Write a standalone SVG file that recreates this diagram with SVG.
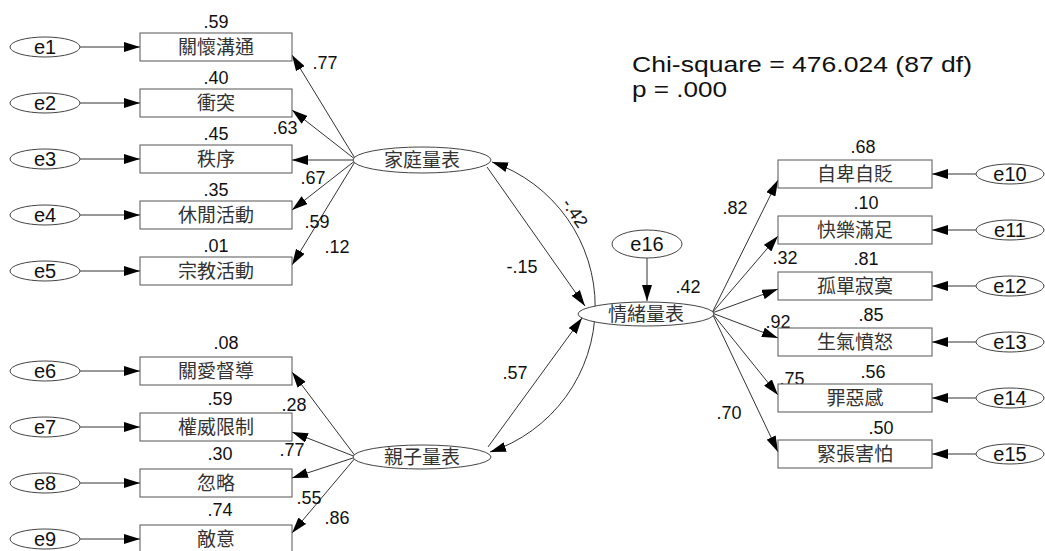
<svg xmlns="http://www.w3.org/2000/svg" width="1045" height="551" viewBox="0 0 1045 551">
<style>
.bg{fill:#ffffff}
.box{fill:#ffffff;stroke:#555;stroke-width:1}
.ell{fill:#ffffff;stroke:#444;stroke-width:1}
.ln{fill:none;stroke:#333;stroke-width:1}
.cjk{font-family:"Noto Sans CJK TC","Noto Sans CJK SC",sans-serif;font-size:19px;fill:#333;text-anchor:middle}
.num{font-family:"Liberation Sans",Arial,sans-serif;font-size:18px;fill:#111;text-anchor:middle}
.el{font-family:"Liberation Sans",Arial,sans-serif;font-size:20px;fill:#111;text-anchor:middle}
.big{font-family:"Liberation Sans",Arial,sans-serif;font-size:22px;fill:#111}
</style>
<defs>
<marker id="ah" markerWidth="16" markerHeight="10" refX="16" refY="5" orient="auto-start-reverse" markerUnits="userSpaceOnUse">
<path d="M0,0 L16,5 L0,10 Z" fill="#000"/>
</marker>
</defs>
<rect class="bg" x="0" y="0" width="1045" height="551"/>

<g id="connectors">
<line class="ln" x1="80" y1="47" x2="140" y2="47" marker-end="url(#ah)"/>
<line class="ln" x1="80" y1="103" x2="140" y2="103" marker-end="url(#ah)"/>
<line class="ln" x1="80" y1="159" x2="140" y2="159" marker-end="url(#ah)"/>
<line class="ln" x1="80" y1="215" x2="140" y2="215" marker-end="url(#ah)"/>
<line class="ln" x1="80" y1="271" x2="140" y2="271" marker-end="url(#ah)"/>
<line class="ln" x1="80" y1="371" x2="140" y2="371" marker-end="url(#ah)"/>
<line class="ln" x1="80" y1="427" x2="140" y2="427" marker-end="url(#ah)"/>
<line class="ln" x1="80" y1="483" x2="140" y2="483" marker-end="url(#ah)"/>
<line class="ln" x1="80" y1="539" x2="140" y2="539" marker-end="url(#ah)"/>
<line class="ln" x1="356" y1="160" x2="292" y2="55" marker-end="url(#ah)"/>
<line class="ln" x1="356" y1="160" x2="292" y2="110" marker-end="url(#ah)"/>
<line class="ln" x1="356" y1="160" x2="292" y2="160" marker-end="url(#ah)"/>
<line class="ln" x1="356" y1="160" x2="292" y2="210" marker-end="url(#ah)"/>
<line class="ln" x1="356" y1="160" x2="292" y2="265" marker-end="url(#ah)"/>
<line class="ln" x1="356" y1="457" x2="292" y2="372" marker-end="url(#ah)"/>
<line class="ln" x1="356" y1="457" x2="292" y2="432" marker-end="url(#ah)"/>
<line class="ln" x1="356" y1="457" x2="292" y2="478" marker-end="url(#ah)"/>
<line class="ln" x1="356" y1="457" x2="292" y2="533" marker-end="url(#ah)"/>
<line class="ln" x1="712" y1="313" x2="778" y2="180" marker-end="url(#ah)"/>
<line class="ln" x1="712" y1="313" x2="778" y2="236" marker-end="url(#ah)"/>
<line class="ln" x1="712" y1="313" x2="778" y2="289" marker-end="url(#ah)"/>
<line class="ln" x1="712" y1="313" x2="778" y2="338" marker-end="url(#ah)"/>
<line class="ln" x1="712" y1="313" x2="778" y2="395" marker-end="url(#ah)"/>
<line class="ln" x1="712" y1="313" x2="778" y2="452" marker-end="url(#ah)"/>
<line class="ln" x1="976" y1="174" x2="932" y2="174" marker-end="url(#ah)"/>
<line class="ln" x1="976" y1="230" x2="932" y2="230" marker-end="url(#ah)"/>
<line class="ln" x1="976" y1="286" x2="932" y2="286" marker-end="url(#ah)"/>
<line class="ln" x1="976" y1="342" x2="932" y2="342" marker-end="url(#ah)"/>
<line class="ln" x1="976" y1="398" x2="932" y2="398" marker-end="url(#ah)"/>
<line class="ln" x1="976" y1="454" x2="932" y2="454" marker-end="url(#ah)"/>
<line class="ln" x1="487" y1="167" x2="585" y2="306" marker-end="url(#ah)"/>
<line class="ln" x1="488" y1="447" x2="582" y2="318" marker-end="url(#ah)"/>
<line class="ln" x1="647" y1="258" x2="647" y2="301" marker-end="url(#ah)"/>
<path class="ln" d="M492,162 A153,153 0 0 1 490,452" marker-start="url(#ah)" marker-end="url(#ah)"/>
</g>

<g id="labels">
<text class="num" x="216" y="28">.59</text>
<text class="num" x="216" y="84">.40</text>
<text class="num" x="216" y="140">.45</text>
<text class="num" x="216" y="196">.35</text>
<text class="num" x="216" y="252">.01</text>
<text class="num" x="226" y="349">.08</text>
<text class="num" x="220" y="405">.59</text>
<text class="num" x="220" y="460">.30</text>
<text class="num" x="220" y="516">.74</text>
<text class="num" x="325" y="69">.77</text>
<text class="num" x="285" y="134">.63</text>
<text class="num" x="313" y="184">.67</text>
<text class="num" x="317" y="228">.59</text>
<text class="num" x="337" y="253">.12</text>
<text class="num" x="294" y="411">.28</text>
<text class="num" x="292" y="456">.77</text>
<text class="num" x="309" y="504">.55</text>
<text class="num" x="337" y="524">.86</text>
<text class="num" x="863" y="153">.68</text>
<text class="num" x="866" y="209">.10</text>
<text class="num" x="866" y="265">.81</text>
<text class="num" x="871" y="321">.85</text>
<text class="num" x="873" y="378">.56</text>
<text class="num" x="881" y="434">.50</text>
<text class="num" x="735" y="214">.82</text>
<text class="num" x="785" y="264">.32</text>
<text class="num" x="792" y="299">.90</text>
<text class="num" x="778" y="328">.92</text>
<text class="num" x="792" y="385">.75</text>
<text class="num" x="729" y="419">.70</text>
<text class="num" x="522" y="273">-.15</text>
<text class="num" x="515" y="379">.57</text>
<text class="num" x="688" y="293">.42</text>
<text class="num" transform="translate(575,213) rotate(56)" x="0" y="6">-.42</text>
<text class="big" x="632" y="72" textLength="340" lengthAdjust="spacingAndGlyphs">Chi-square = 476.024 (87 df)</text>
<text class="big" x="632" y="97" textLength="95" lengthAdjust="spacingAndGlyphs">p = .000</text>
</g>

<g id="e1"><ellipse class="ell" cx="45" cy="47" rx="35" ry="10"/><text class="el" x="45" y="54">e1</text></g>
<g id="e2"><ellipse class="ell" cx="45" cy="103" rx="35" ry="10"/><text class="el" x="45" y="110">e2</text></g>
<g id="e3"><ellipse class="ell" cx="45" cy="159" rx="35" ry="10"/><text class="el" x="45" y="166">e3</text></g>
<g id="e4"><ellipse class="ell" cx="45" cy="215" rx="35" ry="10"/><text class="el" x="45" y="222">e4</text></g>
<g id="e5"><ellipse class="ell" cx="45" cy="271" rx="35" ry="10"/><text class="el" x="45" y="278">e5</text></g>
<g id="e6"><ellipse class="ell" cx="45" cy="371" rx="35" ry="10"/><text class="el" x="45" y="378">e6</text></g>
<g id="e7"><ellipse class="ell" cx="45" cy="427" rx="35" ry="10"/><text class="el" x="45" y="434">e7</text></g>
<g id="e8"><ellipse class="ell" cx="45" cy="483" rx="35" ry="10"/><text class="el" x="45" y="490">e8</text></g>
<g id="e9"><ellipse class="ell" cx="45" cy="539" rx="35" ry="10"/><text class="el" x="45" y="546">e9</text></g>

<g id="v1"><rect class="box" x="140" y="33" width="152" height="28"/><text class="cjk" x="216" y="54">關懷溝通</text></g>
<g id="v2"><rect class="box" x="140" y="89" width="152" height="28"/><text class="cjk" x="216" y="110">衝突</text></g>
<g id="v3"><rect class="box" x="140" y="145" width="152" height="28"/><text class="cjk" x="216" y="166">秩序</text></g>
<g id="v4"><rect class="box" x="140" y="201" width="152" height="28"/><text class="cjk" x="216" y="222">休閒活動</text></g>
<g id="v5"><rect class="box" x="140" y="257" width="152" height="28"/><text class="cjk" x="216" y="278">宗教活動</text></g>
<g id="v6"><rect class="box" x="140" y="357" width="152" height="28"/><text class="cjk" x="216" y="378">關愛督導</text></g>
<g id="v7"><rect class="box" x="140" y="413" width="152" height="28"/><text class="cjk" x="216" y="434">權威限制</text></g>
<g id="v8"><rect class="box" x="140" y="469" width="152" height="28"/><text class="cjk" x="216" y="490">忽略</text></g>
<g id="v9"><rect class="box" x="140" y="525" width="152" height="28"/><text class="cjk" x="216" y="546">敵意</text></g>

<g id="family"><ellipse class="ell" cx="422" cy="160" rx="69" ry="13"/><text class="cjk" x="422" y="167">家庭量表</text></g>
<g id="parent"><ellipse class="ell" cx="422" cy="457" rx="69" ry="12"/><text class="cjk" x="422" y="464">親子量表</text></g>
<g id="emotion"><ellipse class="ell" cx="646" cy="314" rx="68" ry="12"/><text class="cjk" x="646" y="321">情緒量表</text></g>
<g id="e16"><ellipse class="ell" cx="647" cy="244" rx="35" ry="14"/><text class="el" x="647" y="251">e16</text></g>

<g id="w1"><rect class="box" x="778" y="160" width="154" height="28"/><text class="cjk" x="855" y="181">自卑自貶</text></g>
<g id="w2"><rect class="box" x="778" y="216" width="154" height="28"/><text class="cjk" x="855" y="237">快樂滿足</text></g>
<g id="w3"><rect class="box" x="778" y="272" width="154" height="28"/><text class="cjk" x="855" y="293">孤單寂寞</text></g>
<g id="w4"><rect class="box" x="778" y="328" width="154" height="28"/><text class="cjk" x="855" y="349">生氣憤怒</text></g>
<g id="w5"><rect class="box" x="778" y="384" width="154" height="28"/><text class="cjk" x="855" y="405">罪惡感</text></g>
<g id="w6"><rect class="box" x="778" y="440" width="154" height="28"/><text class="cjk" x="855" y="461">緊張害怕</text></g>

<g id="e10"><ellipse class="ell" cx="1010" cy="174" rx="34" ry="10"/><text class="el" x="1010" y="181">e10</text></g>
<g id="e11"><ellipse class="ell" cx="1010" cy="230" rx="34" ry="10"/><text class="el" x="1010" y="237">e11</text></g>
<g id="e12"><ellipse class="ell" cx="1010" cy="286" rx="34" ry="10"/><text class="el" x="1010" y="293">e12</text></g>
<g id="e13"><ellipse class="ell" cx="1010" cy="342" rx="34" ry="10"/><text class="el" x="1010" y="349">e13</text></g>
<g id="e14"><ellipse class="ell" cx="1010" cy="398" rx="34" ry="10"/><text class="el" x="1010" y="405">e14</text></g>
<g id="e15"><ellipse class="ell" cx="1010" cy="454" rx="34" ry="10"/><text class="el" x="1010" y="461">e15</text></g>
</svg>
